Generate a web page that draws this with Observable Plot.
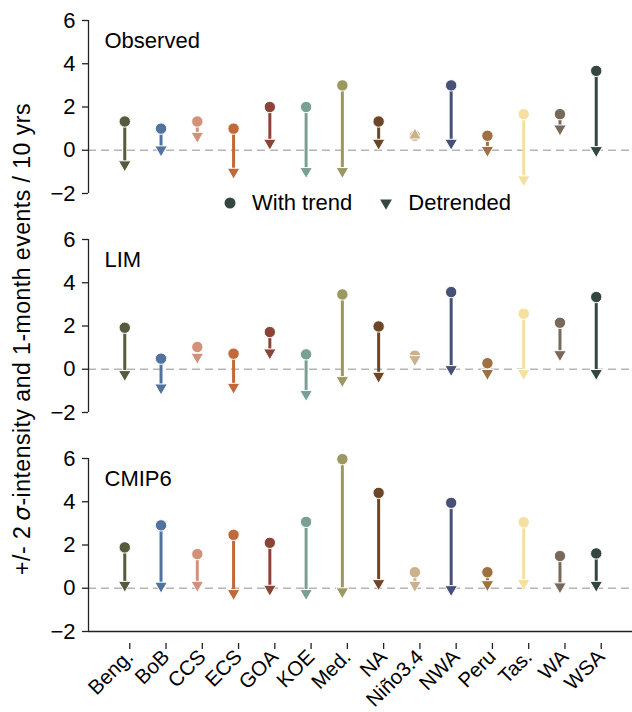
<!DOCTYPE html>
<html><head><meta charset="utf-8">
<script src="https://cdn.jsdelivr.net/npm/d3@7"></script>
<script src="https://cdn.jsdelivr.net/npm/@observablehq/plot@0.6"></script>
<style>
body{margin:0;background:#fff;font-family:"Liberation Sans",Arial,sans-serif;}
#wrap{position:relative;width:632px;height:712px;}
#legend{position:absolute;left:222px;top:190px;height:26px;display:flex;align-items:center;font-size:22px;color:#000;}
</style></head><body>
<div id="wrap"><div id="chart"></div><div id="legend"></div></div>
<script>
const regions = ["Beng.","BoB","CCS","ECS","GOA","KOE","Med.","NA","Niño3.4","NWA","Peru","Tas.","WA","WSA"];
const colors = ["#575a3c","#53739f","#d4917a","#c0693a","#8a4538","#7a9f94","#9c9862","#6c4628","#cdb08c","#475077","#9f7040","#f5e0a0","#776a5a","#34473f"];
const panels = ["Observed","LIM","CMIP6"];
const obsTrend      = [1.33, 1.0, 1.33, 1.0, 2.0, 2.0, 3.0, 1.33, 0.67, 3.0, 0.67, 1.67, 1.67, 3.67];
const obsDetrended  = [-0.66, 0.03, 0.66, -1.0, 0.34, -0.97, -0.97, 0.34, 0.69, 0.34, 0.01, -1.35, 1.0, 0.0];
const limTrend      = [1.92, 0.49, 1.03, 0.72, 1.72, 0.69, 3.46, 1.98, 0.63, 3.57, 0.28, 2.57, 2.15, 3.34];
const limDetrended  = [-0.23, -0.85, 0.57, -0.82, 0.77, -1.15, -0.51, -0.31, 0.46, 0.0, -0.18, -0.18, 0.69, -0.18];
const cmipTrend     = [1.89, 2.91, 1.58, 2.47, 2.1, 3.07, 5.97, 4.41, 0.74, 3.95, 0.74, 3.05, 1.49, 1.61];
const cmipDetrended = [0.15, 0.11, 0.15, -0.23, -0.03, -0.23, -0.15, 0.23, 0.15, -0.05, 0.18, 0.23, 0.08, 0.15];
const yTicks = [-2, 0, 2, 4, 6];
const legendColor = "#34473f";

const trends = [obsTrend, limTrend, cmipTrend];
const detrs = [obsDetrended, limDetrended, cmipDetrended];
const rows = [];
panels.forEach((p, k) => {
  regions.forEach((r, i) => rows.push({panel: p, i, region: r, trend: trends[k][i], detr: detrs[k][i], color: colors[i]}));
});

const FS = 22;
const plot = Plot.plot({
  width: 632, height: 712,
  marginLeft: 88, marginRight: 0, marginTop: 19, marginBottom: 80,
  style: {fontFamily: "'Liberation Sans', Arial, sans-serif", fontSize: FS + "px", color: "#000", background: "#fff", overflow: "visible"},
  x: {domain: [-1, 14], axis: null},
  y: {domain: [-2, 6], axis: null},
  fy: {domain: panels, axis: null, paddingInner: 0.21, paddingOuter: 0},
  color: {type: "identity"},
  marks: [
    Plot.ruleY([0], {stroke: "#b5b5b5", strokeWidth: 1.5, strokeDasharray: "8,5"}),
    Plot.axisY({ticks: yTicks, tickSize: 6, tickPadding: 7, fontSize: FS, stroke: "#222", strokeWidth: 1.3, label: null}),
    Plot.ruleX([-1], {stroke: "#222", strokeWidth: 1.3}),
    Plot.ruleY([-2], {fy: ["CMIP6"], stroke: "#222", strokeWidth: 1.3}),
    Plot.axisX(d3.range(regions.length), {tickFormat: i => regions[i], tickRotate: -45, tickSize: 6, tickPadding: 4,
      dx: 5, dy: 12, fontSize: 20.5, stroke: "#222", strokeWidth: 1.3, label: null}),
    Plot.text(panels, {fy: d => d, text: d => d, frameAnchor: "top-left", lineAnchor: "top", dx: 16, dy: 12, fontSize: FS, textAnchor: "start", fill: "#000"}),
    Plot.link(rows, {x1: "i", x2: "i", y1: "trend", y2: "detr", fy: "panel", stroke: "color", strokeWidth: 3}),
    Plot.dot(rows, {x: "i", y: "trend", fy: "panel", fill: "color", r: 5.7, stroke: "white", strokeWidth: 1}),
    Plot.dot(rows, {x: "i", y: "detr", fy: "panel", symbol: "triangle", fill: "color", r: 4.7, stroke: "white", strokeWidth: 1,
      rotate: d => d.detr > d.trend ? 0 : 180})
  ]
});
document.getElementById("chart").appendChild(plot);

// y-axis title
const t = d3.select(plot).append("text")
  .attr("transform", "translate(22,339) rotate(-90)")
  .attr("text-anchor", "middle").attr("dy", "0.35em")
  .attr("font-size", 23).attr("fill", "#000").style("letter-spacing", "0.5px");
t.append("tspan").text("+/- 2\u2009");
t.append("tspan").attr("font-style", "italic").attr("font-family", "'DejaVu Sans'").text("σ");
t.append("tspan").text("-intensity and 1-month events / 10 yrs");

// legend
const lg = d3.select("#legend");
const s1 = lg.append("svg").attr("width", 16).attr("height", 16);
s1.append("circle").attr("cx", 8).attr("cy", 8).attr("r", 5.5).attr("fill", legendColor);
lg.append("span").style("margin-left", "14px").text("With trend");
const s2 = lg.append("svg").attr("width", 16).attr("height", 16).style("margin-left", "26px");
s2.append("path").attr("d", d3.symbol(d3.symbolTriangle, 60)()).attr("transform", "translate(8,8) rotate(180)").attr("fill", legendColor);
lg.append("span").style("margin-left", "14px").text("Detrended");
</script></body></html>
